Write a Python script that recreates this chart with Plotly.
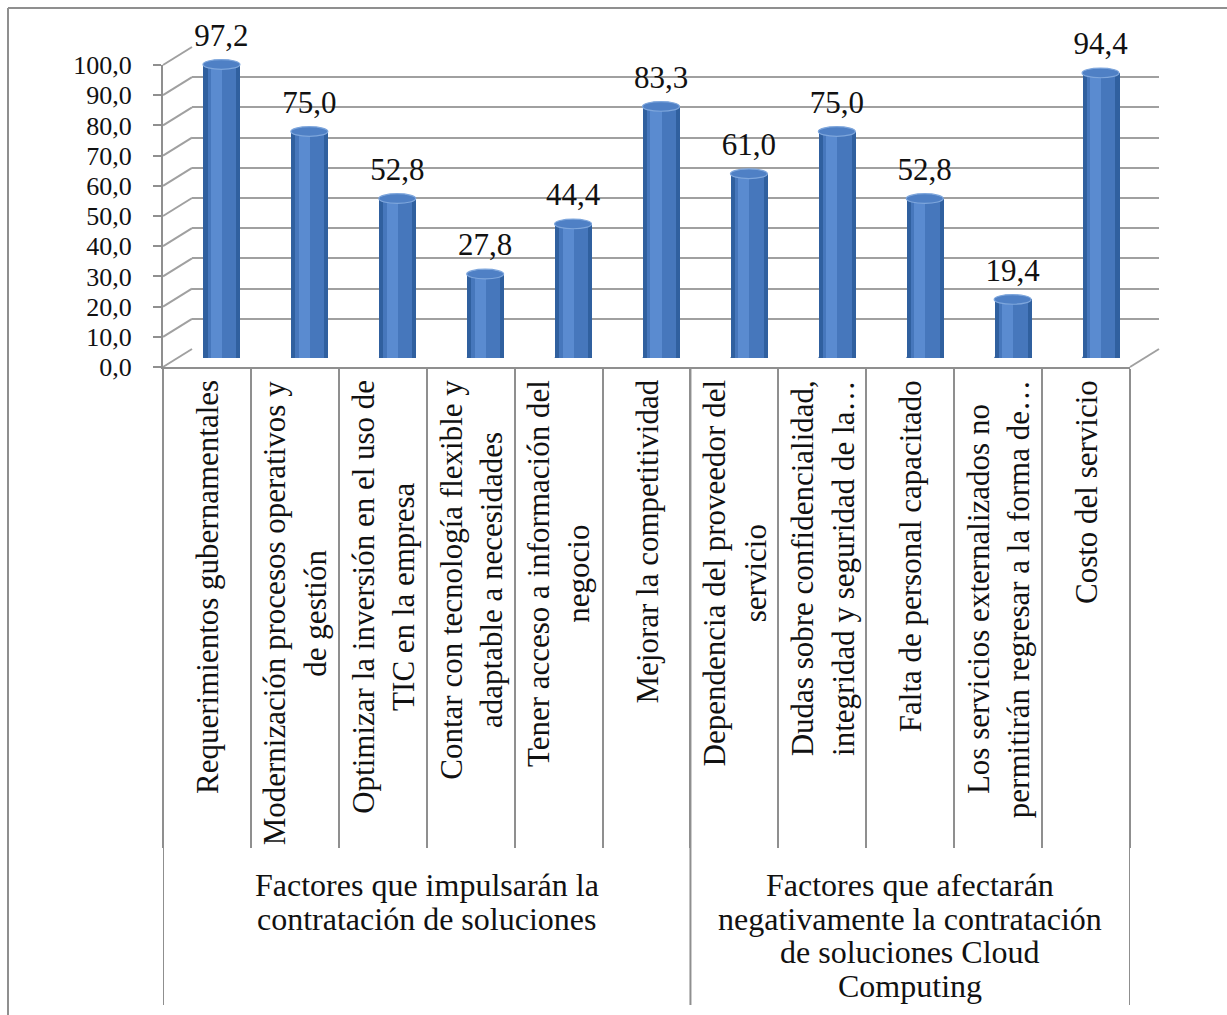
import plotly.graph_objects as go

# ---------------- data ----------------
categories = [
    "Requerimientos gubernamentales",
    "Modernización procesos operativos y<br>de gestión",
    "Optimizar la inversión en el uso de<br>TIC en la empresa",
    "Contar con tecnología flexible y<br>adaptable a necesidades",
    "Tener acceso a información del<br>negocio",
    "Mejorar la competitividad",
    "Dependencia del proveedor del<br>servicio",
    "Dudas sobre confidencialidad,<br>integridad y seguridad de la…",
    "Falta de personal capacitado",
    "Los servicios externalizados no<br>permitirán regresar a la forma de…",
    "Costo del servicio",
]
values = [97.2, 75.0, 52.8, 27.8, 44.4, 83.3, 61.0, 75.0, 52.8, 19.4, 94.4]
group_labels = [
    ["Factores que impulsarán la", "contratación de soluciones"],
    ["Factores que afectarán", "negativamente la contratación",
     "de soluciones Cloud", "Computing"],
]
group_sizes = [6, 5]
y_ticks = [0, 10, 20, 30, 40, 50, 60, 70, 80, 90, 100]

# ---------------- geometry / style ----------------
W, H = 1227, 1015
def px(x):
    return x / W
def py(y):
    return 1 - y / H

FL, FR = 163, 1130        # front frame left / right (pixels)
F0, F100 = 367, 65        # front frame y for 0 and 100
DX, DY = 29, -18          # depth offset to back wall
LABEL_BOTTOM = 846
LONG_BOTTOM = 1005

FONT = "Liberation Serif, Times New Roman, serif"
GRID = "#a0a0a0"
LINE = "#8f8f8f"
n = len(categories)
xr = [-0.5, n - 0.5]
bw = 0.42
eh = 1.6

fig = go.Figure()

# back-wall grid subplot (x, y)
fig.add_trace(go.Scatter(x=[0], y=[0], mode="markers", marker=dict(opacity=0),
                         hoverinfo="skip", showlegend=False, xaxis="x", yaxis="y"))

# cylinders (x2, y2) – shaded with overlaid bars
bar_layers = [
    dict(width=bw, offset=None, color="#30609f"),
    dict(width=bw * 0.78, offset=None, color="#4677bc"),
    dict(width=bw * 0.30, offset=-bw * 0.30, color="#5a8bd0"),
]
for lay in bar_layers:
    kw = dict(x=list(range(n)), y=values, width=lay["width"],
              marker=dict(color=lay["color"], line=dict(width=0)),
              hoverinfo="skip", showlegend=False, xaxis="x2", yaxis="y2")
    if lay["offset"] is not None:
        kw["offset"] = lay["offset"]
    fig.add_trace(go.Bar(**kw))

# data labels
fig.add_trace(go.Scatter(
    x=list(range(n)), y=values, mode="markers+text",
    marker=dict(size=16, opacity=0),
    texttemplate="%{y:.1f}", textposition="top center",
    textfont=dict(family=FONT, size=31, color="#111111"),
    cliponaxis=False, hoverinfo="skip", showlegend=False,
    xaxis="x2", yaxis="y2"))

# front axis subplot (x3, y3)
fig.add_trace(go.Scatter(x=[0], y=[0], mode="markers", marker=dict(opacity=0),
                         hoverinfo="skip", showlegend=False, xaxis="x3", yaxis="y3"))

shapes = []
# ellipse caps of cylinders
for i, v in enumerate(values):
    shapes.append(dict(type="circle", xref="x2", yref="y2", layer="below",
                       x0=i - bw / 2, x1=i + bw / 2, y0=-eh, y1=eh,
                       fillcolor="#30609f", line=dict(width=0)))
    shapes.append(dict(type="circle", xref="x2", yref="y2", layer="above",
                       x0=i - bw / 2, x1=i + bw / 2, y0=v - eh, y1=v + eh,
                       fillcolor="#4f80c5", line=dict(width=1.2, color="#7ea6dc")))

# diagonal lines from front ticks to back wall
for t in y_ticks:
    yf = F0 - (F0 - F100) * t / 100
    shapes.append(dict(type="line", xref="paper", yref="paper", layer="below",
                       x0=px(FL), y0=py(yf), x1=px(FL + DX), y1=py(yf + DY),
                       line=dict(color=GRID, width=2)))
# right floor edge
shapes.append(dict(type="line", xref="paper", yref="paper", layer="below",
                   x0=px(FR), y0=py(F0), x1=px(FR + DX), y1=py(F0 + DY),
                   line=dict(color=GRID, width=2)))
# long group dividers
bounds = [-0.5]
for g in group_sizes:
    bounds.append(bounds[-1] + g)
for b in bounds:
    shapes.append(dict(type="line", xref="x3", yref="paper", layer="below",
                       x0=b, x1=b, y0=py(F0), y1=py(LONG_BOTTOM),
                       line=dict(color=LINE, width=2)))
# outer border (left & top)
shapes.append(dict(type="line", xref="paper", yref="paper",
                   x0=px(8), x1=px(8), y0=py(8), y1=0, line=dict(color=LINE, width=2)))
shapes.append(dict(type="line", xref="paper", yref="paper",
                   x0=px(8), x1=1, y0=py(8), y1=py(8), line=dict(color=LINE, width=2)))

annotations = []
for i, c in enumerate(categories):
    annotations.append(dict(xref="x3", yref="paper", x=i, y=py(378),
                            xanchor="center", yanchor="top", textangle=-90,
                            align="center", showarrow=False, text=c,
                            font=dict(family=FONT, size=31, color="#111111")))
start = 0
for g, lines in zip(group_sizes, group_labels):
    cx = start + (g - 1) / 2
    for k, line in enumerate(lines):
        annotations.append(dict(xref="x3", yref="paper", x=cx, y=py(885 + 33.7 * k),
                                xanchor="center", yanchor="middle", showarrow=False,
                                text=line, font=dict(family=FONT, size=32, color="#111111")))
    start += g

fig.update_layout(
    width=W, height=H, autosize=False,
    margin=dict(l=0, r=0, t=0, b=0, pad=0, autoexpand=False),
    paper_bgcolor="white", plot_bgcolor="rgba(0,0,0,0)",
    separators=",.",
    barmode="overlay", bargap=0,
    showlegend=False,
    shapes=shapes, annotations=annotations,
    xaxis=dict(domain=[px(FL + DX), px(FR + DX)], range=xr, visible=False,
               anchor="y"),
    yaxis=dict(domain=[py(F0 + DY), py(F100 + DY)], range=[0, 100], anchor="x",
               showgrid=True, gridcolor=GRID, gridwidth=2, tickvals=y_ticks,
               showticklabels=False, zeroline=False, showline=False, ticks=""),
    xaxis2=dict(domain=[px(FL + DX / 2), px(FR + DX / 2)], range=xr, visible=False,
                anchor="y2"),
    yaxis2=dict(domain=[py(F0 + DY / 2), py(F100 + DY / 2)], range=[0, 100],
                visible=False, anchor="x2"),
    xaxis3=dict(domain=[px(FL), px(FR)], range=xr, anchor="y3",
                showline=True, linecolor=LINE, linewidth=2,
                ticks="outside", tickvals=[b - 0.5 for b in range(n + 1)],
                ticklen=LABEL_BOTTOM - F0, tickwidth=2, tickcolor=LINE,
                showticklabels=False, showgrid=False, zeroline=False),
    yaxis3=dict(domain=[py(F0), py(F100)], range=[0, 100], anchor="x3",
                showline=True, linecolor=LINE, linewidth=2,
                ticks="outside", ticklen=8, tickwidth=2, tickcolor=LINE,
                tickvals=y_ticks, tickformat=".1f", ticklabelstandoff=16,
                tickfont=dict(family=FONT, size=26, color="#111111"),
                showgrid=False, zeroline=False),
)

fig.write_html("out.html")
